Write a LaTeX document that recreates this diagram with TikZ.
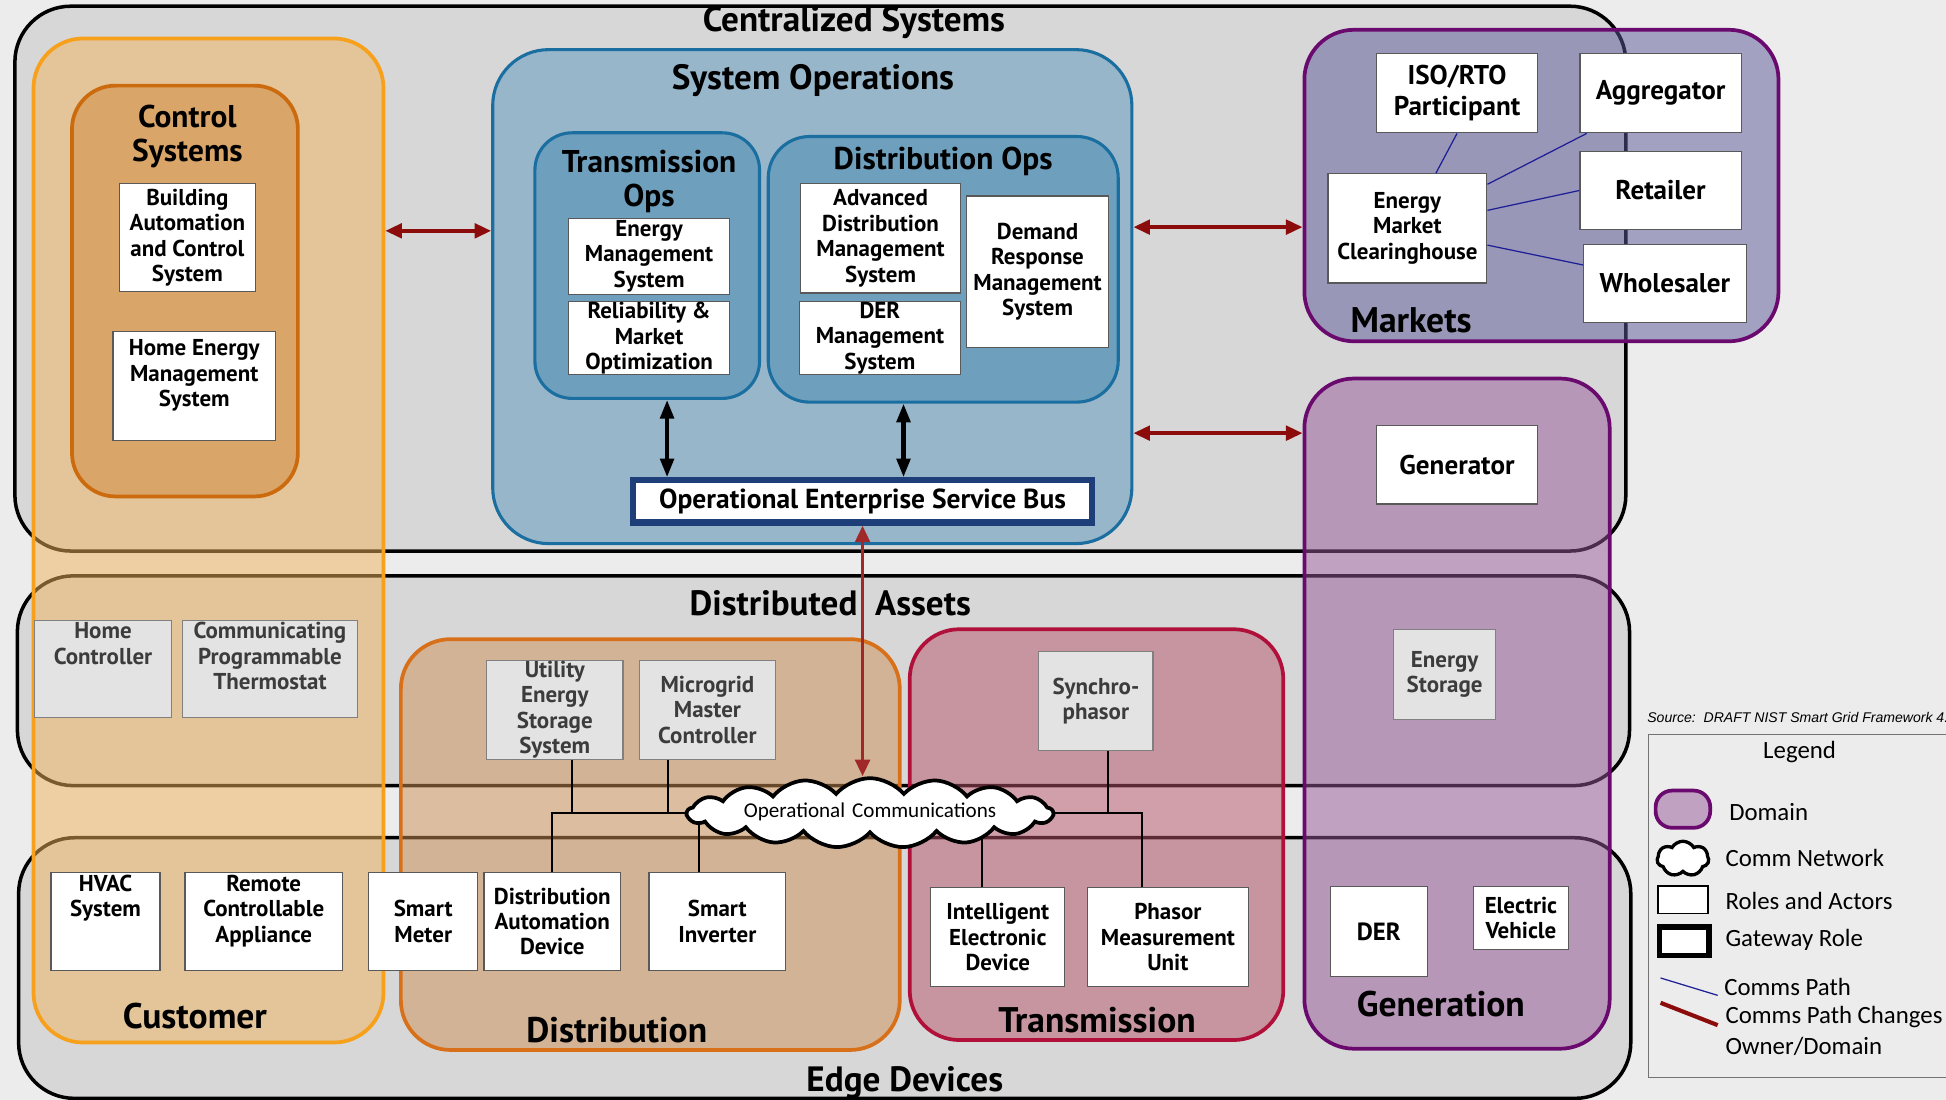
\documentclass[tikz,border=0pt]{standalone}
\usepackage{fontspec}
\setmainfont{PT Sans}
\newfontfamily\calfont{Carlito}
\newfontfamily\arialfont{Liberation Sans}
\usetikzlibrary{arrows.meta,shapes.symbols,fit,calc}

\definecolor{pagebg}{HTML}{ECECEC}
\definecolor{tiergray}{HTML}{D7D7D7}
\definecolor{custfill}{RGB}{240,180,92}
\definecolor{custline}{RGB}{246,160,28}
\definecolor{ctrlfill}{RGB}{218,165,104}
\definecolor{ctrlline}{RGB}{204,106,14}
\definecolor{opsfill}{RGB}{152,182,202}
\definecolor{opsline}{RGB}{26,110,160}
\definecolor{subopsfill}{RGB}{110,160,190}
\definecolor{busline}{RGB}{30,62,122}
\definecolor{mktfill}{RGB}{92,88,152}
\definecolor{purpline}{RGB}{106,10,110}
\definecolor{genfill}{RGB}{152,88,152}
\definecolor{distfill}{RGB}{208,144,84}
\definecolor{distline}{RGB}{216,112,26}
\definecolor{transfill}{RGB}{184,84,104}
\definecolor{transline}{RGB}{176,16,58}
\definecolor{assetfill}{HTML}{E3E3E3}
\definecolor{assettext}{HTML}{3C3C3C}
\definecolor{pathred}{RGB}{140,12,12}
\definecolor{busred}{RGB}{160,40,40}
\definecolor{pathblue}{RGB}{30,30,150}

\tikzset{
  % a node spanning the box (x1,y1)-(x2,y2), one unit being 0.6pt
  span/.style n args={4}{at={({(#1+#3)/2},{(#2+#4)/2})},
    minimum width={(#3-#1)*0.6pt}, minimum height={(#4-#2)*0.6pt}},
  tier/.style={draw=black, line width=1.7pt, rounded corners=27pt, fill=tiergray, inner sep=0pt},
  domainbox/.style={line width=1.8pt, rounded corners=24pt, inner sep=0pt, fill opacity=0.5},
  opsgroup/.style={draw=opsline, line width=1.5pt, inner sep=0pt},
  tiertitle/.style={font=\bfseries\fontsize{17}{19}\selectfont},
  domtitle/.style={font=\bfseries\fontsize{17.2}{19}\selectfont},
  subtitle/.style={font=\bfseries\fontsize{15.2}{16.6}\selectfont, align=center},
  actor/.style={draw=black!65, fill=white, line width=0.6pt, inner sep=0pt, align=center,
    font=\bfseries\fontsize{11.1}{12.3}\selectfont},
  asset/.style={actor, fill=assetfill, draw=black!50, text=assettext},
  bigactor/.style={actor, font=\bfseries\fontsize{13.1}{15}\selectfont},
  redpath/.style={draw=pathred, line width=1.8pt,
    {Triangle[length=8pt,width=7pt]}-{Triangle[length=8pt,width=7pt]}},
  opspath/.style={draw=black, line width=2pt,
    {Triangle[length=9pt,width=6.5pt]}-{Triangle[length=9pt,width=6.5pt]}},
  commspath/.style={draw=pathblue, line width=0.6pt},
  wire/.style={draw=black, line width=1.1pt},
  cloudnet/.style={cloud, cloud puffs=17, cloud puff arc=100, cloud ignores aspect,
    draw=black, line width=1.8pt, fill=white, inner sep=0pt},
  legendtext/.style={font=\calfont\fontsize{12}{14}\selectfont, anchor=west, inner sep=0pt},
}

\begin{document}
\begin{tikzpicture}[x=0.6pt,y=-0.6pt]
\useasboundingbox (0,0) rectangle (1568,886);
\fill[pagebg] (0,0) rectangle (1568,886);

% ---- tiers ----
\node[tier, fit={(12,5)(1310,444)}] (central) {};
\node[tier, fit={(14,464)(1313,633)}] (distrib) {};
\node[tier, fit={(15,675)(1314,885)}] (edge) {};

% ---- domains ----
\node[domainbox, fill=custfill, draw=custline, fit={(27,31)(309,840)}] (customer) {};
\node[domainbox, fill=mktfill, draw=purpline, fit={(1051,24)(1433,275)}] (markets) {};
\node[domainbox, fill=genfill, draw=purpline, fit={(1051,305)(1297,845)}] (generation) {};
\node[domainbox, fill=distfill, draw=distline, fit={(323,515)(725,846)}] (distribution) {};
\node[domainbox, fill=transfill, draw=transline, fit={(733,507)(1034,838)}] (transmission) {};

% ---- control systems ----
\node[draw=ctrlline, fill=ctrlfill, line width=1.8pt, rounded corners=21pt, inner sep=0pt,
      fit={(58,69)(240,400)}] (ctrl) {};
\node[subtitle] (ctrltitle) at (151,110) {Control\\Systems};
\node[actor, span={96}{148}{206}{235}] (bacs) {Building\\Automation\\and Control\\System};
\node[actor, span={91}{267}{222}{355}] (hems) {Home Energy\\Management\\System\\ \mbox{}};

% ---- system operations ----
\node[opsgroup, fill=opsfill, rounded corners=27pt, fit={(397,40)(912,438)}] (sysops) {};
\node[tiertitle] (sysopstitle) at (655,65) {System Operations};
\node[opsgroup, fill=subopsfill, rounded corners=18pt, fit={(431,107)(612,321)}] (transops) {};
\node[subtitle] (transopstitle) at (523,146) {Transmission\\Ops};
\node[opsgroup, fill=subopsfill, rounded corners=20pt, fit={(619,110)(901,324)}] (distops) {};
\node[subtitle] (distopstitle) at (760,130) {Distribution Ops};
\node[actor, span={458}{176}{588}{237}] (ems) {Energy\\Management\\System};
\node[actor, span={458}{243}{588}{302}] (rmo) {Reliability \&\\Market\\Optimization};
\node[actor, span={645}{148}{774}{236}] (adms) {Advanced\\Distribution\\Management\\System};
\node[actor, span={644}{243}{774}{302}] (derms) {DER\\Management\\System};
\node[actor, span={779}{158}{893}{280}] (drms) {Demand\\Response\\Management\\System};
\node[draw=busline, line width=3pt, fill=white, inner sep=0pt,
      font=\bfseries\fontsize{13.3}{15}\selectfont, span={510}{387}{880}{421}] (oesb)
      {Operational Enterprise Service Bus};

\draw[opspath] ($(transops.south)+(16,0)$) coordinate (tdown) -- (tdown |- oesb.north);
\draw[opspath] ($(distops.south)+(-32,0)$) coordinate (ddown) -- (ddown |- oesb.north);

% ---- markets ----
\node[bigactor, span={1109}{43}{1239}{107}] (iso) {ISO/RTO\\Participant};
\node[bigactor, span={1273}{43}{1403}{107}] (aggr) {Aggregator};
\node[actor, span={1070}{140}{1198}{228}] (emc) {Energy\\Market\\Clearinghouse};
\node[bigactor, span={1273}{122}{1403}{185}] (retail) {Retailer};
\node[bigactor, span={1276}{197}{1407}{260}] (whole) {Wholesaler};
\draw[commspath] (iso.south) -- ($(emc.north)+(23,0)$);
\draw[commspath] ($(emc.north east)+(0,9)$) -- ($(aggr.south west)+(6,0)$);
\draw[commspath] ($(emc.north east)+(0,30)$) -- ($(retail.north west)+(0,32)$);
\draw[commspath] ($(emc.north east)+(0,58)$) -- ($(whole.north west)+(0,17)$);
\node[domtitle] (mkttitle) at (1137,258) {Markets};

% ---- generation ----
\node[bigactor, span={1109}{343}{1239}{406}] (genr) {Generator};
\node[asset, span={1123}{507}{1205}{580}] (estor) {Energy\\Storage};
\node[actor, font=\bfseries\fontsize{12}{13}\selectfont, span={1072}{714}{1150}{787}] (der) {DER};
\node[actor, span={1187}{714}{1264}{765}] (ev) {Electric\\Vehicle};
\node[domtitle] (gentitle) at (1161,809) {Generation};

% ---- customer ----
\node[asset, span={28}{500}{138}{578}] (hc) {Home\\Controller\\ \mbox{}\\ \mbox{}};
\node[asset, span={147}{500}{288}{578}] (cpt) {Communicating\\Programmable\\Thermostat\\ \mbox{}};
\node[actor, span={41}{703}{129}{782}] (hvac) {HVAC\\System\\ \mbox{}\\ \mbox{}};
\node[actor, span={149}{703}{276}{782}] (rca) {Remote\\Controllable\\Appliance\\ \mbox{}};
\node[domtitle] (custtitle) at (157,819) {Customer};

% ---- distribution ----
\node[asset, span={392}{532}{502}{612}] (uess) {Utility\\Energy\\Storage\\System};
\node[asset, span={515}{532}{625}{612}] (mmc) {Microgrid\\Master\\Controller};
\node[actor, span={297}{703}{385}{782}] (sm) {Smart\\Meter};
\node[actor, span={390}{703}{500}{782}] (dad) {Distribution\\Automation\\Device};
\node[actor, span={523}{703}{633}{782}] (sinv) {Smart\\Inverter};
\node[domtitle] (disttitle) at (497,830) {Distribution};

% ---- transmission ----
\node[asset, span={837}{525}{929}{605}] (syn) {Synchro-\\phasor};
\node[actor, span={750}{715}{858}{795}] (ied) {Intelligent\\Electronic\\Device};
\node[actor, span={876}{715}{1006}{795}] (pmu) {Phasor\\Measurement\\Unit};
\node[domtitle] (transtitle) at (884,822) {Transmission};

% ---- operational communications ----
\coordinate (cloudc) at (701,655);
\draw[wire] ($(uess.south)+(14,0)$) coordinate (u1) -- (u1 |- cloudc);
\draw[wire] ($(mmc.south)+(-32,0)$) coordinate (m1) -- (m1 |- cloudc);
\draw[wire] (dad.north) |- (cloudc);
\draw[wire] ($(sinv.north)+(-15,0)$) coordinate (s1) -- (s1 |- cloudc);
\draw[wire] ($(syn.south)+(10,0)$) coordinate (y1) -- (y1 |- cloudc);
\draw[wire] ($(pmu.north)+(-21,0)$) coordinate (p1) |- (cloudc);
\draw[wire] ($(ied.north)+(-13,0)$) coordinate (i1) -- (i1 |- cloudc);
\node[cloudnet, at=(cloudc), text width=126pt, text height=9pt, text depth=4.2pt, align=center,
      font=\calfont\fontsize{10.2}{12}\selectfont] (opcom) {Operational Communications};

% ---- paths that change owner or domain ----
\coordinate (lvlA) at (0,186);
\coordinate (lvlB) at (0,183);
\coordinate (lvlC) at (0,349);
\draw[redpath] (customer.east |- lvlA) -- (sysops.west |- lvlA);
\draw[redpath] (sysops.east |- lvlB) -- (markets.west |- lvlB);
\draw[redpath] (sysops.east |- lvlC) -- (generation.west |- lvlC);
\draw[redpath, draw=busred] (oesb.south) -- (oesb.south |- opcom.north);

% ---- tier titles ----
\node[tiertitle] (centraltitle) at (688,18) {Centralized Systems};
\node[font=\bfseries\fontsize{17}{19}\selectfont] (distribtitle) at (669,486)
  {Distributed\hspace{0.5em}Assets};
\node[tiertitle] (edgetitle) at (729,872) {Edge Devices};

% ---- legend ----
\node[font=\arialfont\itshape\fontsize{6.8}{8}\selectfont, anchor=west, inner sep=0pt]
  (source) at (1327,578) {Source:\ \ DRAFT NIST Smart Grid Framework 4.};
\node[draw=black!55, line width=0.6pt, inner sep=0pt, fit={(1328,592)(1590,868)}] (legend) {};
\node[font=\calfont\fontsize{12}{14}\selectfont] (legendtitle) at (1450,606) {Legend};
\node[draw=purpline, line width=1.8pt, fill=genfill, fill opacity=0.5, rounded corners=8pt,
      inner sep=0pt, fit={(1334,637)(1378,667)}] (keydomain) {};
\node[legendtext] (keydomaintext) at (1393,654) {Domain};
\node[cloud, cloud puffs=7, cloud puff arc=120, cloud ignores aspect, draw=black,
      line width=1.6pt, fill=white, inner sep=0pt, minimum width=25pt, minimum height=17pt]
      (keycloud) at (1356,692) {};
\node[legendtext] (keycloudtext) at (1390,691) {Comm Network};
\node[draw=black, line width=0.9pt, fill=white, inner sep=0pt, fit={(1336,714)(1376,736)}] (keyactor) {};
\node[legendtext] (keyactortext) at (1390,726) {Roles and Actors};
\node[draw=black, line width=2.6pt, fill=white, inner sep=0pt, fit={(1337,747)(1377,770)}] (keygate) {};
\node[legendtext] (keygatetext) at (1390,757) {Gateway Role};
\draw[commspath] (1338,788) -- (1384,802);
\node[legendtext] (keypathtext) at (1389,795) {Comms Path};
\draw[draw=pathred, line width=2pt] (1338,808) -- (1384,826);
\node[legendtext, align=left] (keychangetext) at (1390,831) {Comms Path Changes\\[1pt]Owner/Domain};
\end{tikzpicture}
\end{document}
